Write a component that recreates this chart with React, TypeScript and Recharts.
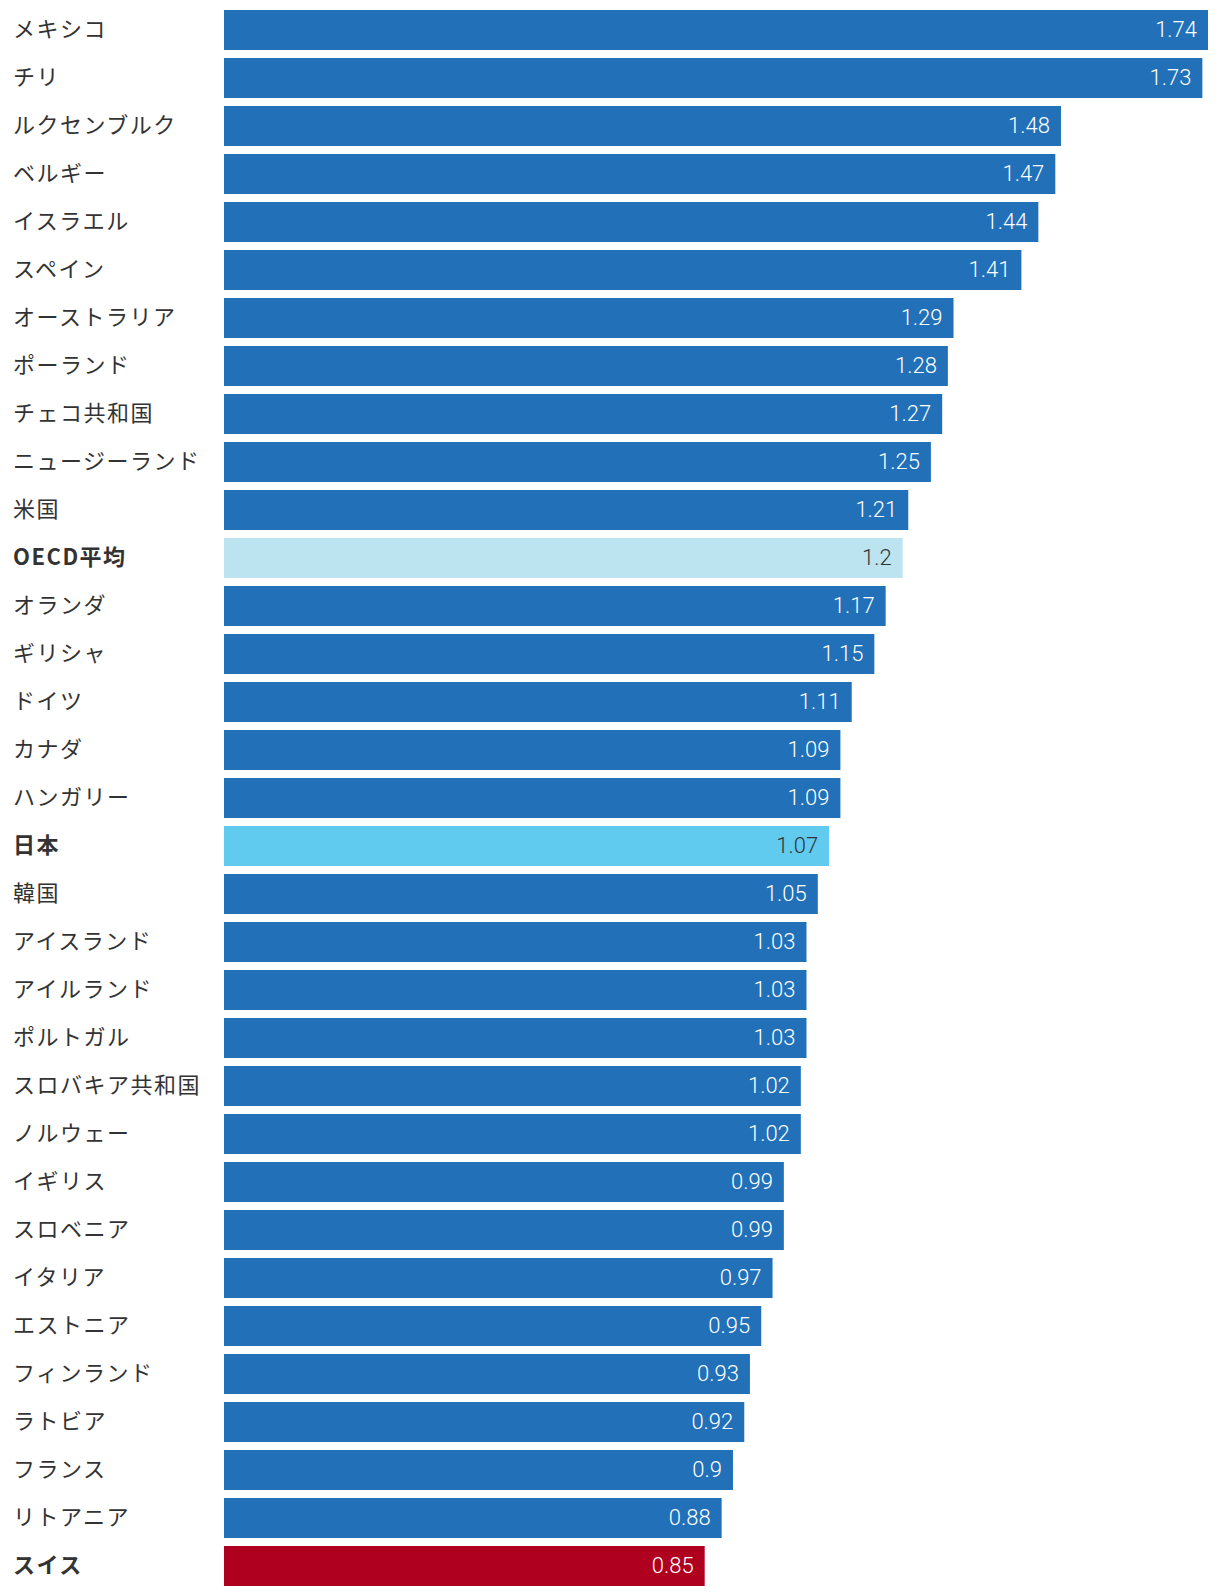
import { BarChart, Bar, XAxis, YAxis, Cell, LabelList } from 'recharts';

const countries = [
  'メキシコ', 'チリ', 'ルクセンブルク', 'ベルギー', 'イスラエル', 'スペイン', 'オーストラリア',
  'ポーランド', 'チェコ共和国', 'ニュージーランド', '米国', 'OECD平均', 'オランダ', 'ギリシャ',
  'ドイツ', 'カナダ', 'ハンガリー', '日本', '韓国', 'アイスランド', 'アイルランド', 'ポルトガル',
  'スロバキア共和国', 'ノルウェー', 'イギリス', 'スロベニア', 'イタリア', 'エストニア',
  'フィンランド', 'ラトビア', 'フランス', 'リトアニア', 'スイス',
];

const values = [
  1.74, 1.73, 1.48, 1.47, 1.44, 1.41, 1.29, 1.28, 1.27, 1.25, 1.21, 1.2, 1.17, 1.15, 1.11, 1.09,
  1.09, 1.07, 1.05, 1.03, 1.03, 1.03, 1.02, 1.02, 0.99, 0.99, 0.97, 0.95, 0.93, 0.92, 0.9, 0.88, 0.85,
];

// highlighted rows
const highlight: Record<string, { fill: string; text: string }> = {
  'OECD平均': { fill: '#bbe3f0', text: '#333333' },
  '日本': { fill: '#60cbee', text: '#333333' },
  'スイス': { fill: '#b0001f', text: '#ffffff' },
};
const baseFill = '#2170b8';

const data = countries.map((name, i) => ({ name, value: values[i] }));

const CountryTick = (props: any) => {
  const { y, payload } = props;
  const bold = !!highlight[payload.value];
  return (
    <text
      x={13}
      y={y}
      dy="0.34em"
      textAnchor="start"
      fill="#333333"
      fontSize={22}
      letterSpacing={1.5}
      fontWeight={bold ? 700 : 400}
      fontFamily="'Noto Sans CJK JP', 'Noto Sans', sans-serif"
    >
      {payload.value}
    </text>
  );
};

const ValueLabel = (props: any) => {
  const { x, y, width, height, value, index } = props;
  const h = highlight[countries[index]];
  return (
    <text
      x={x + width - 11}
      y={y + height / 2}
      dy="0.34em"
      textAnchor="end"
      fill={h ? h.text : '#ffffff'}
      fontSize={22}
      fontWeight={300}
      fontFamily="Roboto, 'Noto Sans', sans-serif"
    >
      {value}
    </text>
  );
};

export default function App() {
  return (
    <div style={{ position: 'absolute', left: 0, top: 0, background: '#fff' }}>
      <BarChart
        width={1220}
        height={1596}
        data={data}
        layout="vertical"
        margin={{ top: 6, right: 12, bottom: 6, left: 0 }}
        barSize={40}
      >
        <XAxis type="number" domain={[0, 1.74]} hide />
        <YAxis
          type="category"
          dataKey="name"
          width={224}
          axisLine={false}
          tickLine={false}
          interval={0}
          tick={<CountryTick />}
        />
        <Bar dataKey="value" isAnimationActive={false}>
          {data.map((d) => (
            <Cell key={d.name} fill={highlight[d.name] ? highlight[d.name].fill : baseFill} />
          ))}
          <LabelList dataKey="value" content={<ValueLabel />} />
        </Bar>
      </BarChart>
    </div>
  );
}
